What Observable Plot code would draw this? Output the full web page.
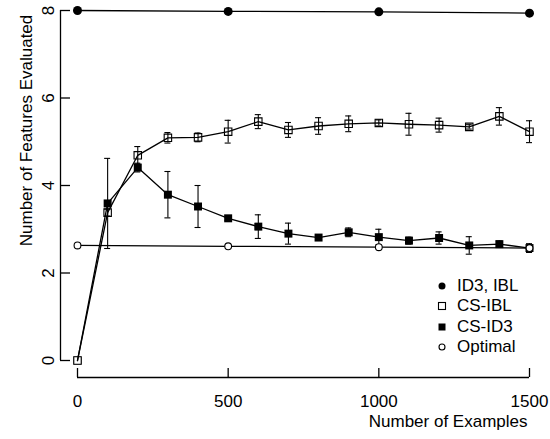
<!DOCTYPE html>
<html>
<head>
<meta charset="utf-8">
<script src="https://cdn.jsdelivr.net/npm/d3@7"></script>
<script src="https://cdn.jsdelivr.net/npm/@observablehq/plot@0.6"></script>
<style>
  html, body { margin: 0; padding: 0; background: #fff; }
  #wrap { position: relative; width: 550px; height: 439px; font-family: "Liberation Sans", Arial, Helvetica, sans-serif; }
  #legend { position: absolute; left: 436px; top: 276px; font-size: 17px; color: #000; }
  #legend .row { display: flex; align-items: center; height: 20.3px; }
  #legend svg { width: 12px; height: 12px; margin-right: 9px; flex: none; }
</style>
</head>
<body>
<div id="wrap"></div>
<script>
// ---- data ----
const xTicks = [0, 500, 1000, 1500];
const yTicks = [0, 2, 4, 6, 8];
const xTitle = "Number of Examples";
const yTitle = "Number of Features Evaluated";
const seriesNames = ["ID3, IBL", "CS-IBL", "CS-ID3", "Optimal"];

const refExamples = [0, 500, 1000, 1500];
const id3ibl = [8.0, 7.98, 7.97, 7.94];
const optimal = [2.63, 2.61, 2.59, 2.57];

const examples = [0, 100, 200, 300, 400, 500, 600, 700, 800, 900, 1000, 1100, 1200, 1300, 1400, 1500];
const csIBL    = [0, 3.38, 4.69, 5.09, 5.10, 5.23, 5.46, 5.27, 5.36, 5.41, 5.43, 5.40, 5.38, 5.34, 5.58, 5.23];
const csIBLerr = [0, 0.08, 0.20, 0.12, 0.10, 0.26, 0.16, 0.17, 0.19, 0.18, 0.07, 0.25, 0.16, 0.05, 0.20, 0.25];
const csID3    = [0, 3.59, 4.41, 3.79, 3.52, 3.25, 3.06, 2.90, 2.81, 2.93, 2.82, 2.74, 2.80, 2.63, 2.66, 2.57];
const csID3err = [0, 1.03, 0.10, 0.53, 0.48, 0.05, 0.27, 0.24, 0.05, 0.10, 0.18, 0.08, 0.14, 0.20, 0.07, 0.10];

// ---- tables ----
const refRows = refExamples.map((x, i) => ({x, id3: id3ibl[i], opt: optimal[i]}));
const ibRows = examples.map((x, i) => ({x, y: csIBL[i], lo: csIBL[i] - csIBLerr[i], hi: csIBL[i] + csIBLerr[i]}));
const idRows = examples.map((x, i) => ({x, y: csID3[i], lo: csID3[i] - csID3err[i], hi: csID3[i] + csID3err[i]}));
const errRows = [...ibRows, ...idRows].filter(d => d.hi - d.lo > 0);

const lw = 1.3;
const plot = Plot.plot({
  width: 550,
  height: 439,
  marginLeft: 77,
  marginRight: 21,
  marginTop: 10,
  marginBottom: 79,
  x: {domain: [xTicks[0], xTicks[xTicks.length - 1]], axis: null},
  y: {domain: [yTicks[0], yTicks[yTicks.length - 1]], axis: null},
  style: {fontFamily: "'Liberation Sans', Arial, Helvetica, sans-serif", fontSize: "17px", background: "#fff", overflow: "visible"},
  marks: [
    // y axis
    Plot.ruleX([xTicks[0]], {y1: yTicks[0], y2: yTicks[yTicks.length - 1], dx: -17, stroke: "#000", strokeWidth: lw}),
    Plot.ruleY(yTicks, {y: d => d, x1: xTicks[0], x2: xTicks[0], insetLeft: -17, insetRight: 7, stroke: "#000", strokeWidth: lw}),
    Plot.text(yTicks, {x: xTicks[0], y: d => d, text: d => String(d), rotate: -90, dx: -29, fill: "#000"}),
    // x axis
    Plot.ruleY([yTicks[0]], {x1: xTicks[0], x2: xTicks[xTicks.length - 1], dy: 17, stroke: "#000", strokeWidth: lw}),
    Plot.ruleX(xTicks, {x: d => d, y1: yTicks[0], y2: yTicks[0], insetTop: 8, insetBottom: -17, stroke: "#000", strokeWidth: lw}),
    Plot.text(xTicks, {x: d => d, y: yTicks[0], text: d => String(d), dy: 41, fill: "#000"}),
    // titles
    Plot.text([xTitle], {frameAnchor: "bottom-right", text: d => d, textAnchor: "end", dx: -2, dy: 66, fill: "#000"}),
    Plot.text([yTitle], {frameAnchor: "top-left", text: d => d, textAnchor: "middle", rotate: -90, dx: -58, dy: 120, fill: "#000"}),
    // square markers (under the lines, like hollow R symbols)
    Plot.dot(idRows, {x: "x", y: "y", symbol: "square", r: 4.5, fill: "#000", stroke: "none"}),
    Plot.dot(ibRows, {x: "x", y: "y", symbol: "square", r: 4.2, fill: "#fff", stroke: "#000", strokeWidth: 1.1}),
    // lines
    Plot.line(refRows, {x: "x", y: "id3", stroke: "#000", strokeWidth: lw}),
    Plot.line(refRows, {x: "x", y: "opt", stroke: "#000", strokeWidth: lw}),
    Plot.line(ibRows, {x: "x", y: "y", stroke: "#000", strokeWidth: lw}),
    Plot.line(idRows, {x: "x", y: "y", stroke: "#000", strokeWidth: lw}),
    // error bars
    Plot.ruleX(errRows, {x: "x", y1: "lo", y2: "hi", stroke: "#000", strokeWidth: 1.1}),
    Plot.ruleY(errRows, {y: "hi", x1: "x", x2: "x", insetLeft: -3, insetRight: -3, stroke: "#000", strokeWidth: 1.1}),
    Plot.ruleY(errRows, {y: "lo", x1: "x", x2: "x", insetLeft: -3, insetRight: -3, stroke: "#000", strokeWidth: 1.1}),
    // circle markers
    Plot.dot(refRows, {x: "x", y: "id3", r: 4.5, fill: "#000", stroke: "none"}),
    Plot.dot(refRows, {x: "x", y: "opt", r: 3.4, fill: "#fff", stroke: "#000", strokeWidth: 1.1})
  ]
});

const wrap = document.getElementById("wrap");
wrap.appendChild(plot);

// legend
const legend = document.createElement("div");
legend.id = "legend";
const symbols = [
  '<circle cx="6" cy="6" r="3.5" fill="#000"/>',
  '<rect x="2.5" y="2.5" width="7" height="7" fill="none" stroke="#000" stroke-width="1.1"/>',
  '<rect x="2.5" y="2.5" width="7" height="7" fill="#000"/>',
  '<circle cx="6" cy="6" r="3" fill="none" stroke="#000" stroke-width="1.1"/>'
];
seriesNames.forEach((name, i) => {
  const row = document.createElement("div");
  row.className = "row";
  row.innerHTML = `<svg viewBox="0 0 12 12">${symbols[i]}</svg><span>${name}</span>`;
  legend.appendChild(row);
});
wrap.appendChild(legend);
</script>
</body>
</html>
